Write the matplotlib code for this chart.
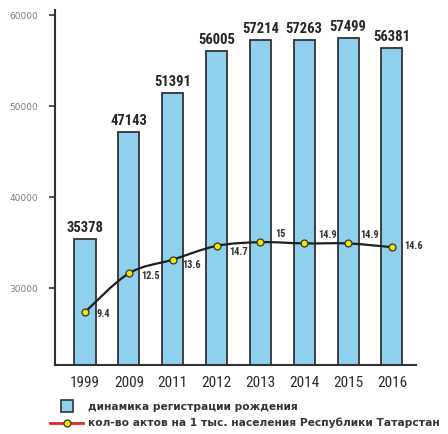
import matplotlib
matplotlib.use("Agg")
import matplotlib.pyplot as plt
from matplotlib import font_manager
from matplotlib.path import Path
from matplotlib.patches import PathPatch
from matplotlib.lines import Line2D

years = ["1999", "2009", "2011", "2012", "2013", "2014", "2015", "2016"]
births = [35378, 47143, 51391, 56005, 57214, 57263, 57499, 56381]
rate = [9.4, 12.5, 13.6, 14.7, 15, 14.9, 14.9, 14.6]
rate_labels = ["9.4", "12.5", "13.6", "14.7", "15", "14.9", "14.9", "14.6"]
yticks = [30000, 40000, 50000, 60000]
legend_labels = ["динамика регистрации рождения",
                 "кол-во актов на 1 тыс. населения Республики Татарстан"]

# pick a narrow font if one is installed
names = {f.name for f in font_manager.fontManager.ttflist}
narrow = None
for cand in ["Liberation Sans Narrow", "Roboto Condensed", "Open Sans Condensed"]:
    if cand in names:
        narrow = cand
        break
if narrow is None:
    if any(f.name == "DejaVu Sans" and f.stretch == "condensed" for f in font_manager.fontManager.ttflist):
        NF = dict(family="DejaVu Sans", fontstretch="condensed")
    else:
        NF = dict(family="DejaVu Sans")
else:
    NF = dict(family=narrow)

fig = plt.figure(figsize=(4.48, 4.34), dpi=100)
ax = fig.add_axes([55/448, 1-365/434, (416-55)/448, (365-10)/434])
x = list(range(len(years)))

ax.bar(x, births, width=0.48, color="#8fd0ee", edgecolor="#333333", linewidth=1.3, zorder=2)
for xi, v in zip(x, births):
    ax.annotate(str(v), (xi, v), xytext=(0, 4), textcoords="offset pixels",
                ha="center", va="bottom", fontsize=10.5, fontweight="bold", color="#262626", **NF)

ax.set_xlim(-0.684, 7.55)
ax.set_ylim(21540, 60550)
ax.set_yticks(yticks)
ax.set_yticklabels([str(t) for t in yticks], fontsize=6.5, color="#7a7a7a")
ax.set_xticks(x)
ax.set_xticklabels(years, fontsize=11, color="#2a2a2a", **NF)
ax.tick_params(axis="x", length=0, pad=8)
ax.tick_params(axis="y", length=4, width=1.2, color="#333333", pad=8)
for s in ["top", "right"]:
    ax.spines[s].set_visible(False)
for s in ["left", "bottom"]:
    ax.spines[s].set_linewidth(1.5)
    ax.spines[s].set_color("#333333")

ax2 = ax.twinx()
ax2.set_ylim(5.16, 33.6)
ax2.axis("off")

# smooth curve (Catmull-Rom -> cubic Bezier) through the data points
verts = [(x[0], rate[0])]
codes = [Path.MOVETO]
n = len(x)
for i in range(n - 1):
    p0 = (x[max(i-1, 0)], rate[max(i-1, 0)])
    p1 = (x[i], rate[i])
    p2 = (x[i+1], rate[i+1])
    p3 = (x[min(i+2, n-1)], rate[min(i+2, n-1)])
    c1 = (p1[0] + (p2[0]-p0[0])/6, p1[1] + (p2[1]-p0[1])/6)
    c2 = (p2[0] - (p3[0]-p1[0])/6, p2[1] - (p3[1]-p1[1])/6)
    verts += [c1, c2, p2]
    codes += [Path.CURVE4]*3
ax2.add_patch(PathPatch(Path(verts, codes), facecolor="none", edgecolor="#1e1e1e", lw=1.6, zorder=3))
ax2.plot(x, rate, linestyle="none", marker="o", ms=5, mfc="#f0e400", mec="#333333", mew=0.9, zorder=4)

offsets = [(12, -2), (12, -3), (10, -5), (13, -6), (15, 8), (14, 8), (12, 8), (12, 1)]
for xi, v, lab, off in zip(x, rate, rate_labels, offsets):
    ax2.annotate(lab, (xi, v), xytext=off, textcoords="offset pixels", ha="left", va="center",
                 fontsize=7.5, fontweight="bold", color="#333333", **NF)

h1 = Line2D([], [], linestyle="none", marker="s", ms=8, mfc="#8fd0ee", mec="#333333", mew=1.2)
h2 = Line2D([], [], color="#e02626", lw=2, marker="o", ms=5, mfc="#f0e400", mec="#333333", mew=0.9)
leg = fig.legend([h1, h2], legend_labels, loc="upper left", bbox_to_anchor=(50/448, 1-402/434),
                 frameon=False, handlelength=3.1, handletextpad=0.47, labelspacing=0.55,
                 borderaxespad=0, borderpad=0,
                 prop=dict(size=7.7, weight="bold", family="DejaVu Sans"))
for t in leg.get_texts():
    t.set_color("#333333")

fig.savefig("out.png", dpi=100)
